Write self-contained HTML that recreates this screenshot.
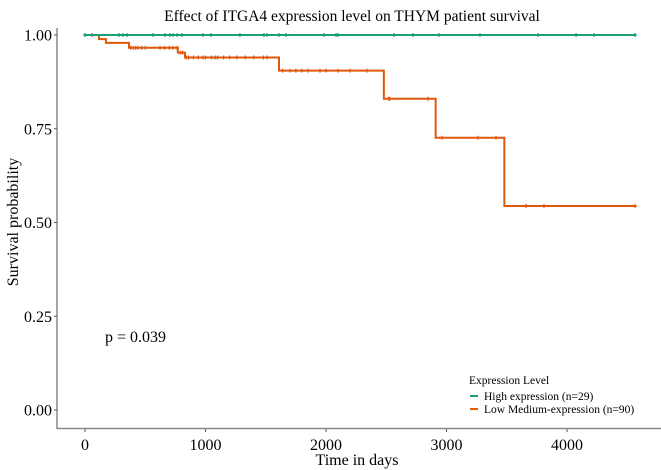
<!DOCTYPE html>
<html><head><meta charset="utf-8">
<style>
body{margin:0;background:#fff;}
svg{display:block;font-family:"Liberation Serif",serif;}
</style></head>
<body>
<svg id="chart" width="661" height="470" viewBox="0 0 661 470">
<text x="352" y="21" text-anchor="middle" font-size="15.5">Effect of ITGA4 expression level on THYM patient survival</text>
<g id="axes"></g>
<g id="series"></g>
<text x="105" y="342" font-size="16">p = 0.039</text>
<text x="357" y="465" text-anchor="middle" font-size="16">Time in days</text>
<text transform="translate(18,222) rotate(-90)" text-anchor="middle" font-size="16">Survival probability</text>
<g>
<text x="469" y="384" font-size="11.5">Expression Level</text>
<g><line x1="470" y1="396" x2="478" y2="396" stroke="#1b9e77" stroke-width="2"/><text x="484" y="400" font-size="11.5">High expression (n=29)</text></g>
<g><line x1="470" y1="409" x2="478" y2="409" stroke="#d95f02" stroke-width="2"/><text x="484" y="413" font-size="11.5">Low Medium-expression (n=90)</text></g>
</g>
</svg>
<script>
const xTicks=[0,1000,2000,3000,4000];
const yTicks=[0,0.25,0.5,0.75,1.0];
const yTickLabels=["0.00","0.25","0.50","0.75","1.00"];
const highTimes=[0,4570];
const highSurv=[1,1];
const highCensor=[0,282,315,349,564,664,705,730,764,805,979,1046,1286,1485,1510,1610,1668,1983,2083,2100,2564,2722,2938,3278,3759,4075,4224,4564];
const lowTimes=[0,116,174,365,770,830,1610,2480,2910,3480,4570];
const lowSurv=[1,0.989,0.979,0.966,0.953,0.940,0.905,0.830,0.726,0.544,0.544];
const lowCensor=[58,380,400,420,440,470,500,622,660,700,730,764,790,810,840,860,900,940,980,1000,1050,1080,1100,1150,1200,1260,1330,1400,1480,1510,1640,1700,1750,1800,1850,1950,2000,2100,2200,2340,2520,2530,2846,2963,3261,3411,3660,3809,4564];
const X=t=>85+t*0.1205, Y=v=>410-375*v;
const NS="http://www.w3.org/2000/svg";
function mk(tag,attrs,parent){const e=document.createElementNS(NS,tag);for(const k in attrs)e.setAttribute(k,attrs[k]);parent.appendChild(e);return e;}
const ax=document.getElementById('axes'), se=document.getElementById('series');
let l=mk('line',{x1:57,y1:28,x2:57,y2:429,stroke:'#888','stroke-width':1.5},ax);


l=mk('line',{x1:57,y1:428.5,x2:661,y2:428.5,stroke:'#888','stroke-width':1.5},ax);


xTicks.forEach(t=>{mk('line',{x1:X(t),y1:429,x2:X(t),y2:432,stroke:'#555'},ax);
 const tx=mk('text',{x:X(t),y:450,'text-anchor':'middle','font-size':16},ax);tx.textContent=t;
 
 });
yTicks.forEach((v,i)=>{mk('line',{x1:54,y1:Y(v),x2:57,y2:Y(v),stroke:'#555'},ax);
 const tx=mk('text',{x:52,y:Y(v)+5.5,'text-anchor':'end','font-size':16},ax);tx.textContent=yTickLabels[i];
 
 });
function stepPath(ts,vs){let d='M'+X(ts[0])+','+Y(vs[0]);for(let i=1;i<ts.length;i++){d+=' H'+X(ts[i])+' V'+Y(vs[i]);}return d;}
function survAt(ts,vs,t){let v=vs[0];for(let i=0;i<ts.length;i++){if(ts[i]<=t)v=vs[i];}return v;}
function draw(ts,vs,cens,color,name){
 const p=mk('path',{d:stepPath(ts,vs),fill:'none',stroke:color,'stroke-width':2},se);
 
 
 cens.forEach(t=>{const y=Y(survAt(ts,vs,t));
  const c=mk('path',{d:`M${X(t)-2},${y} H${X(t)+2} M${X(t)},${y-2} V${y+2}`,stroke:color,'stroke-width':1.2},se);
  
  });
}
draw(lowTimes,lowSurv,lowCensor,'#e0570c','low-expression');
draw(highTimes,highSurv,highCensor,'#1b9e77','high-expression');
</script>
</body></html>
